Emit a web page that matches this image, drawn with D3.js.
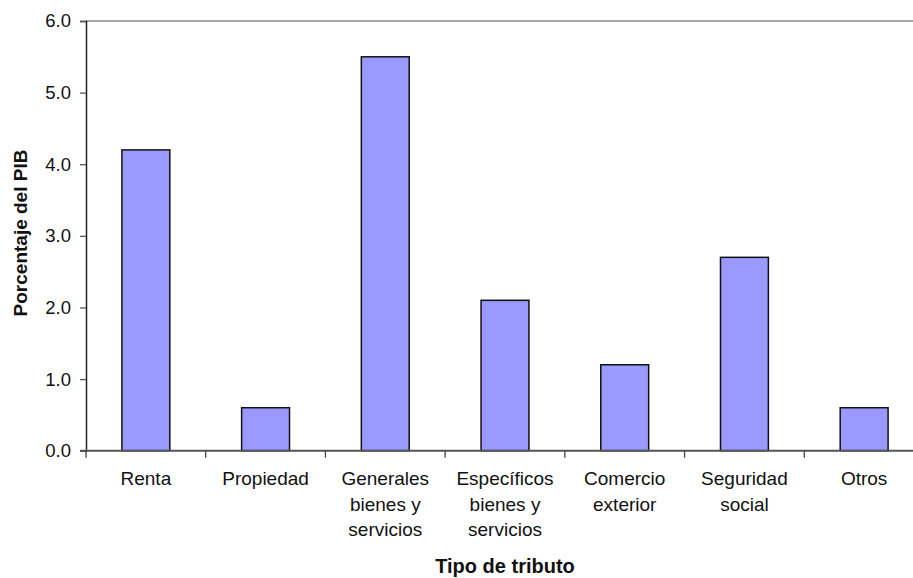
<!DOCTYPE html>
<html>
<head>
<meta charset="utf-8">
<script src="https://cdn.jsdelivr.net/npm/d3@7"></script>
<style>
  html, body { margin: 0; padding: 0; background: #fff; overflow: hidden; }
  svg { display: block; font-family: "Liberation Sans", Arial, sans-serif; }
</style>
</head>
<body>
<svg id="chart" width="913" height="578"></svg>
<script>
// Recaudación por tipo de tributo, en porcentaje del PIB
const categories = [
  ["Renta"],
  ["Propiedad"],
  ["Generales", "bienes y", "servicios"],
  ["Específicos", "bienes y", "servicios"],
  ["Comercio", "exterior"],
  ["Seguridad", "social"],
  ["Otros"]
];
const values = [4.2, 0.6, 5.5, 2.1, 1.2, 2.7, 0.6];
const yTicks = [0, 1, 2, 3, 4, 5, 6];
const yTitle = "Porcentaje del PIB";
const xTitle = "Tipo de tributo";

const svg = d3.select("#chart");
const plotLeft = 86, plotRight = 924, plotTop = 21, plotBottom = 450.7;
const keys = categories.map((c, i) => i);

const x = d3.scaleBand().domain(keys).range([plotLeft, plotRight]).paddingInner(0.6).paddingOuter(0.3);
const xEdge = d3.scaleLinear().domain([0, categories.length]).range([plotLeft, plotRight]);
const y = d3.scaleLinear().domain([0, 6]).range([plotBottom, plotTop]);

// top border of the plot area
svg.append("line")
  .attr("x1", plotLeft).attr("x2", plotRight)
  .attr("y1", y(6)).attr("y2", y(6))
  .attr("stroke", "#8c8c8c").attr("stroke-width", 1.5);

// bars
svg.append("g").selectAll("rect").data(values).join("rect")
  .attr("x", (d, i) => x(i))
  .attr("width", x.bandwidth())
  .attr("y", d => y(d))
  .attr("height", d => y(0) - y(d))
  .attr("fill", "#9999ff")
  .attr("stroke", "#111")
  .attr("stroke-width", 1.5);

// y axis
const yAxis = svg.append("g")
  .attr("transform", `translate(${plotLeft},0)`)
  .call(d3.axisLeft(y).tickValues(yTicks).tickFormat(d3.format(".1f")).tickSize(6).tickPadding(9));
yAxis.select(".domain").attr("stroke", "#222").attr("stroke-width", 1.5);
yAxis.selectAll(".tick line").attr("stroke", "#555").attr("stroke-width", 1.3);
yAxis.selectAll(".tick text")
  .attr("font-size", 18.5).attr("fill", "#111")
  .style("font-family", "'Liberation Sans', Arial, sans-serif");

// x axis baseline with category boundary ticks
svg.append("line")
  .attr("x1", plotLeft - 6).attr("x2", plotRight)
  .attr("y1", y(0)).attr("y2", y(0))
  .attr("stroke", "#555").attr("stroke-width", 2);
svg.append("g").selectAll("line").data(d3.range(categories.length + 1)).join("line")
  .attr("x1", d => xEdge(d)).attr("x2", d => xEdge(d))
  .attr("y1", y(0)).attr("y2", y(0) + 7)
  .attr("stroke", "#444").attr("stroke-width", 1.3);

// category labels
const labels = svg.append("g").selectAll("text").data(categories).join("text")
  .attr("text-anchor", "middle")
  .attr("font-size", 19)
  .attr("fill", "#111")
  .attr("y", 485);
labels.selectAll("tspan").data((d, i) => d.map(t => ({ t, i }))).join("tspan")
  .attr("x", d => x(d.i) + x.bandwidth() / 2)
  .attr("dy", (d, j) => j === 0 ? 0 : 25.5)
  .text(d => d.t);

// axis titles
svg.append("text")
  .attr("x", (plotLeft + plotRight) / 2).attr("y", 573)
  .attr("text-anchor", "middle")
  .attr("font-size", 20).attr("font-weight", "bold").attr("fill", "#111")
  .text(xTitle);

svg.append("text")
  .attr("transform", `translate(27,233) rotate(-90)`)
  .attr("text-anchor", "middle")
  .attr("font-size", 19).attr("font-weight", "bold").attr("fill", "#111")
  .text(yTitle);
</script>
</body>
</html>
